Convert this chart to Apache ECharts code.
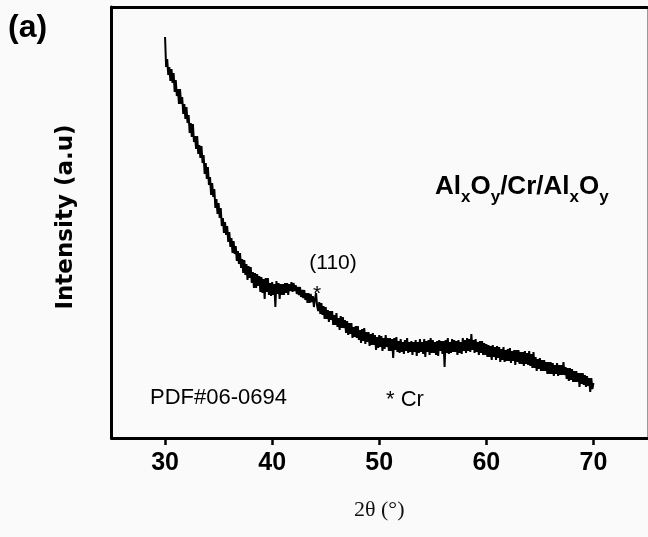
<!DOCTYPE html>
<html>
<head>
<meta charset="utf-8">
<script src="https://cdn.jsdelivr.net/npm/echarts@6/dist/echarts.min.js"></script>
<style>
  html, body { margin: 0; padding: 0; background: #fafafa; }
  #chart { width: 648px; height: 537px; }
</style>
</head>
<body>
<div id="chart"></div>
<script>
const angleStart = 30;
const angleStep = 0.1;
const intensity = [
  401, 371, 379, 363, 371, 357, 369, 355, 365, 346,
  358, 342, 349, 334, 349, 334, 341, 324, 334, 319,
  331, 315, 323, 305, 315, 301, 314, 296, 302, 289,
  302, 284, 293, 280, 292, 275, 283, 264, 275, 259,
  271, 253, 261, 243, 255, 241, 249, 230, 239, 224,
  235, 220, 230, 212, 220, 205, 216, 203, 212, 196,
  206, 191, 200, 185, 197, 184, 192, 177, 187, 174,
  185, 170, 179, 165, 178, 163, 174, 158, 172, 160,
  171, 155, 166, 150, 165, 150, 164, 152, 162, 146,
  161, 145, 159, 139, 160, 146, 160, 143, 155, 142,
  156, 143, 154, 131, 157, 144, 155, 139, 154, 143,
  154, 143, 155, 145, 155, 143, 154, 147, 156, 146,
  155, 147, 153, 144, 151, 143, 151, 141, 148, 140,
  148, 138, 145, 135, 145, 135, 144, 136, 142, 131,
  139, 145, 132, 127, 136, 124, 135, 123, 132, 119,
  131, 119, 128, 116, 127, 118, 127, 113, 123, 113,
  125, 111, 120, 108, 122, 110, 121, 110, 118, 105,
  117, 103, 115, 104, 115, 100, 111, 101, 112, 100,
  112, 98, 108, 95, 109, 97, 110, 94, 106, 96,
  106, 92, 104, 93, 105, 93, 103, 88, 101, 90,
  103, 91, 102, 87, 100, 89, 103, 91, 100, 87,
  100, 87, 99, 80, 100, 88, 101, 86, 97, 85,
  99, 86, 96, 84, 98, 87, 100, 85, 96, 86,
  97, 83, 96, 86, 98, 82, 96, 85, 99, 86,
  96, 84, 99, 81, 97, 86, 98, 83, 100, 85,
  98, 85, 96, 83, 97, 82, 98, 87, 97, 84,
  97, 71, 98, 85, 100, 84, 96, 85, 99, 86,
  98, 86, 97, 83, 98, 85, 96, 84, 100, 87,
  98, 85, 100, 87, 99, 86, 104, 88, 98, 85,
  99, 86, 96, 83, 97, 85, 97, 83, 95, 83,
  94, 81, 93, 81, 92, 78, 93, 81, 91, 78,
  92, 80, 91, 76, 89, 78, 91, 76, 88, 77,
  89, 77, 90, 75, 87, 77, 88, 73, 88, 76,
  88, 74, 86, 74, 86, 72, 87, 74, 85, 73,
  87, 72, 84, 70, 86, 70, 81, 67, 79, 69,
  80, 67, 78, 67, 78, 67, 76, 64, 76, 64,
  76, 64, 75, 62, 73, 64, 75, 62, 73, 63,
  73, 63, 76, 63, 71, 59, 70, 57, 70, 58,
  69, 56, 67, 56, 67, 56, 65, 51, 65, 54,
  65, 53, 63, 51, 62, 52, 60, 46, 60, 49,
  55
];
const xTicks = [30, 40, 50, 60, 70];
const xRange = [25, 75];
const yRange = [0, 431];

const sans = '"Liberation Sans", Arial, sans-serif';
const serif = '"Liberation Serif", "Times New Roman", serif';

const seriesData = intensity.map((v, i) => [Math.round((angleStart + i * angleStep) * 10) / 10, v]);

const chart = echarts.init(document.getElementById('chart'), null, { renderer: 'canvas' });
chart.setOption({
  backgroundColor: '#fafafa',
  animation: false,
  grid: { left: 111.5, right: 1, top: 7, bottom: 99, containLabel: false },
  xAxis: [{
    type: 'value', min: xRange[0], max: xRange[1], position: 'bottom',
    axisLine: { show: true, onZero: false, lineStyle: { color: '#000', width: 3 } },
    axisTick: { show: true, customValues: xTicks, length: 7, inside: false, lineStyle: { color: '#000', width: 2.5 } },
    axisLabel: { show: true, customValues: xTicks, margin: 13, color: '#000', fontFamily: sans, fontWeight: 'bold', fontSize: 25 },
    splitLine: { show: false },
    name: '2θ (°)', nameLocation: 'middle', nameGap: 61,
    nameTextStyle: { fontFamily: serif, fontSize: 22, color: '#111' }
  }, {
    type: 'value', min: xRange[0], max: xRange[1], position: 'top',
    axisLine: { show: true, onZero: false, lineStyle: { color: '#000', width: 3 } },
    axisTick: { show: false }, axisLabel: { show: false }, splitLine: { show: false }
  }],
  yAxis: [{
    type: 'value', min: yRange[0], max: yRange[1], position: 'left',
    axisLine: { show: true, onZero: false, lineStyle: { color: '#000', width: 3 } },
    axisTick: { show: false }, axisLabel: { show: false }, splitLine: { show: false }
  }, {
    type: 'value', min: yRange[0], max: yRange[1], position: 'right',
    axisLine: { show: true, onZero: false, lineStyle: { color: '#999', width: 1 } },
    axisTick: { show: false }, axisLabel: { show: false }, splitLine: { show: false }
  }],
  series: [{
    type: 'line', xAxisIndex: 0, yAxisIndex: 0,
    data: seriesData, showSymbol: false, symbol: 'none',
    lineStyle: { color: '#000', width: 2 }
  }],
  graphic: [
    { type: 'text', x: 8, y: 12, style: { text: '(a)', fontFamily: sans, fontWeight: 'bold', fontSize: 32, fill: '#000', align: 'left', verticalAlign: 'top' } },
    { type: 'text', x: 66, y: 217, rotation: Math.PI / 2,
      style: { text: 'Intensity (a.u)', fontFamily: '"DejaVu Sans", sans-serif', fontWeight: 'bold', fontSize: 23, fill: '#000', align: 'center', verticalAlign: 'middle' } },
    { type: 'text', x: 435, y: 174,
      style: {
        text: '{m|Al}{s|x}{m|O}{s|y}{m|/Cr/Al}{s|x}{m|O}{s|y}',
        align: 'left', verticalAlign: 'top',
        rich: {
          m: { fontFamily: sans, fontWeight: 'bold', fontSize: 26, lineHeight: 26, verticalAlign: 'top', fill: '#000' },
          s: { fontFamily: sans, fontWeight: 'bold', fontSize: 17, lineHeight: 32, verticalAlign: 'bottom', fill: '#000' }
        }
      } },
    { type: 'text', x: 333, y: 263, style: { text: '(110)', fontFamily: sans, fontSize: 21, fill: '#000', align: 'center', verticalAlign: 'middle' } },
    { type: 'text', x: 317, y: 294, style: { text: '*', fontFamily: sans, fontSize: 21, fill: '#000', align: 'center', verticalAlign: 'middle' } },
    { type: 'text', x: 150, y: 398, style: { text: 'PDF#06-0694', fontFamily: sans, fontSize: 22, fill: '#000', align: 'left', verticalAlign: 'middle' } },
    { type: 'text', x: 386, y: 400, style: { text: '* Cr', fontFamily: sans, fontSize: 22, fill: '#000', align: 'left', verticalAlign: 'middle' } }
  ]
});
</script>
</body>
</html>
